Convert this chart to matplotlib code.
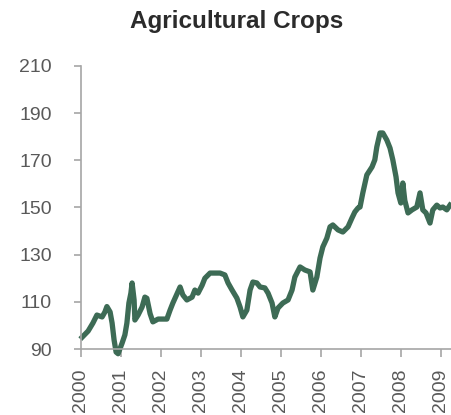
import numpy as np
import matplotlib.pyplot as plt

# donnees (annee decimale, indice)
annees = [2000.03, 2000.18, 2000.30, 2000.40, 2000.53, 2000.60, 2000.65, 2000.73,
          2000.78, 2000.83, 2000.88, 2000.93, 2001.03, 2001.10, 2001.15, 2001.20,
          2001.25, 2001.28, 2001.33, 2001.35, 2001.43, 2001.53, 2001.60, 2001.65,
          2001.73, 2001.80, 2001.93, 2002.15, 2002.23, 2002.30, 2002.48, 2002.55,
          2002.65, 2002.78, 2002.85, 2002.93, 2003.03, 2003.10, 2003.23, 2003.48,
          2003.60, 2003.68, 2003.78, 2003.90, 2003.98, 2004.05, 2004.15, 2004.23,
          2004.30, 2004.40, 2004.48, 2004.60, 2004.68, 2004.78, 2004.85, 2004.93,
          2005.05, 2005.18, 2005.28, 2005.35, 2005.48, 2005.60, 2005.73, 2005.80,
          2005.90, 2005.98, 2006.05, 2006.15, 2006.23, 2006.30, 2006.43, 2006.55,
          2006.68, 2006.78, 2006.85, 2006.93, 2006.98, 2007.05, 2007.15, 2007.28,
          2007.35, 2007.40, 2007.48, 2007.55, 2007.65, 2007.73, 2007.80, 2007.88,
          2007.93, 2008.00, 2008.05, 2008.10, 2008.18, 2008.28, 2008.40, 2008.48,
          2008.55, 2008.63, 2008.73, 2008.80, 2008.90, 2008.98, 2009.05, 2009.15,
          2009.23]
valeurs = [95.0, 97.6, 101.0, 104.4, 103.6, 105.7, 108.0, 105.7,
           101.0, 93.8, 88.7, 88.0, 92.5, 96.0, 101.0, 109.5,
           113.7, 118.0, 110.8, 102.3, 104.4, 107.8, 112.0, 111.5,
           105.0, 101.5, 102.7, 102.7, 106.5, 109.5, 116.3, 112.9,
           110.8, 112.0, 115.0, 113.7, 117.0, 120.0, 122.2, 122.2,
           121.4, 118.0, 115.0, 111.6, 107.8, 103.6, 106.5, 115.0,
           118.4, 118.0, 116.3, 115.9, 113.7, 109.5, 103.6, 107.4,
           109.5, 110.8, 115.0, 120.5, 124.8, 123.5, 122.7, 115.0,
           120.5, 128.6, 133.3, 137.0, 141.8, 142.6, 140.5, 139.6,
           141.8, 145.6, 148.1, 149.8, 150.2, 156.2, 163.8, 167.2,
           170.2, 175.7, 181.6, 181.6, 178.6, 175.2, 170.2, 163.0,
           156.2, 151.9, 160.4, 153.0, 147.7, 149.0, 150.2, 156.2,
           149.0, 147.7, 143.4, 149.0, 151.0, 149.8, 150.2, 149.0,
           151.0]
ticks_x = [2000, 2001, 2002, 2003, 2004, 2005, 2006, 2007, 2008, 2009]
ticks_y = [90, 110, 130, 150, 170, 190, 210]

plt.rcParams['font.family'] = ['Liberation Sans', 'DejaVu Sans']

fig = plt.figure(figsize=(4.52, 4.15), dpi=100)
ax = fig.add_axes([0.179, 0.159, 0.821, 0.682])

# la courbe depasse un peu sous l'axe en 2001, comme dans l'original
ax.plot(annees, valeurs, color='#3d6b55', linewidth=3.8, solid_joinstyle='round',
        clip_on=False)

ax.set_xlim(2000, 2009.28)
ax.set_ylim(90, 210)
ax.set_xticks(ticks_x)
ax.set_xticklabels([str(a) for a in ticks_x], rotation=90, va='top')
ax.set_yticks(ticks_y)

for s in ['top', 'right']:
    ax.spines[s].set_visible(False)
for s in ['left', 'bottom']:
    ax.spines[s].set_color('#a6a6a6')
    ax.spines[s].set_linewidth(1.2)

ax.tick_params(axis='x', length=6, width=1.2, color='#a6a6a6', pad=8,
               labelsize=14, labelcolor='#595959')
ax.tick_params(axis='y', length=5, width=1.2, color='#a6a6a6', pad=16,
               labelsize=14, labelcolor='#595959')

fig.text(0.524, 0.949, 'Agricultural Crops', ha='center', va='center',
         fontsize=17.5, fontweight='bold', color='#2b2b2b')

plt.savefig('out.png', dpi=100)
